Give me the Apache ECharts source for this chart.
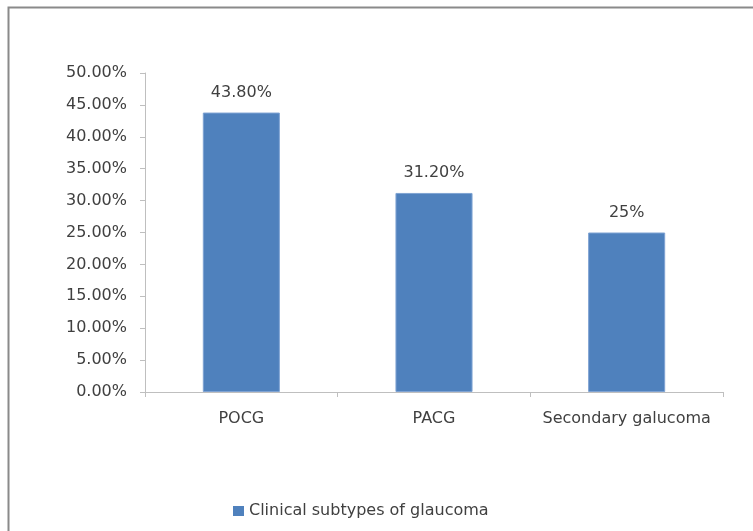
<!DOCTYPE html>
<html>
<head>
<meta charset="utf-8">
<script src="https://cdn.jsdelivr.net/npm/echarts@6/dist/echarts.min.js"></script>
<style>
  html, body { margin: 0; padding: 0; background: #fff; }
  #chart { width: 753px; height: 531px; }
</style>
</head>
<body>
<div id="chart"></div>
<script>
// Share of each clinical subtype of glaucoma (percent)
const categories = ['POCG', 'PACG', 'Secondary galucoma'];
const seriesName = 'Clinical subtypes of glaucoma';
const values = [43.8, 31.2, 25];
const yMin = 0;
const yMax = 50;
const yStep = 5;

const FONT = 'DejaVu Sans';
const TEXT = '#404040';
const SIZE = 16;

const chart = echarts.init(document.getElementById('chart'), null, { renderer: 'canvas' });

chart.setOption({
  animation: false,
  backgroundColor: '#fff',
  graphic: [{
    type: 'rect',
    left: 6, top: 5,
    shape: { width: 820, height: 600 },
    style: { fill: 'none', stroke: '#8a8a8a', lineWidth: 2 },
    z: 0
  }],
  grid: { left: 145, right: 30, top: 73, bottom: 139, containLabel: false },
  legend: {
    bottom: 7,
    left: 228,
    itemWidth: 11, itemHeight: 10,
    itemGap: 6,
    icon: 'rect',
    itemStyle: { borderWidth: 0 },
    textStyle: { fontFamily: FONT, fontSize: SIZE, color: TEXT },
    data: [seriesName]
  },
  xAxis: {
    type: 'category',
    data: categories,
    axisLine: { lineStyle: { color: '#bfbfbf', width: 1 } },
    axisTick: { show: true, length: 5, alignWithLabel: false, lineStyle: { color: '#bfbfbf' } },
    axisLabel: { interval: 0, fontFamily: FONT, fontSize: SIZE, color: TEXT, margin: 19 }
  },
  yAxis: {
    type: 'value',
    min: yMin, max: yMax, interval: yStep,
    axisLine: { show: true, lineStyle: { color: '#bfbfbf', width: 1 } },
    axisTick: { show: true, length: 5, lineStyle: { color: '#bfbfbf' } },
    splitLine: { show: false },
    axisLabel: {
      fontFamily: FONT, fontSize: SIZE, color: TEXT, margin: 18,
      formatter: v => v.toFixed(2) + '%'
    }
  },
  series: [{
    name: seriesName,
    type: 'bar',
    data: values,
    barWidth: '40%',
    itemStyle: { color: '#4f81bd', borderColor: '#7fa3d3', borderWidth: 1 },
    label: {
      show: true,
      position: 'top',
      distance: 12,
      fontFamily: FONT, fontSize: SIZE, color: TEXT,
      formatter: p => (Number.isInteger(p.value) ? p.value : p.value.toFixed(2)) + '%'
    }
  }]
});
</script>
</body>
</html>
